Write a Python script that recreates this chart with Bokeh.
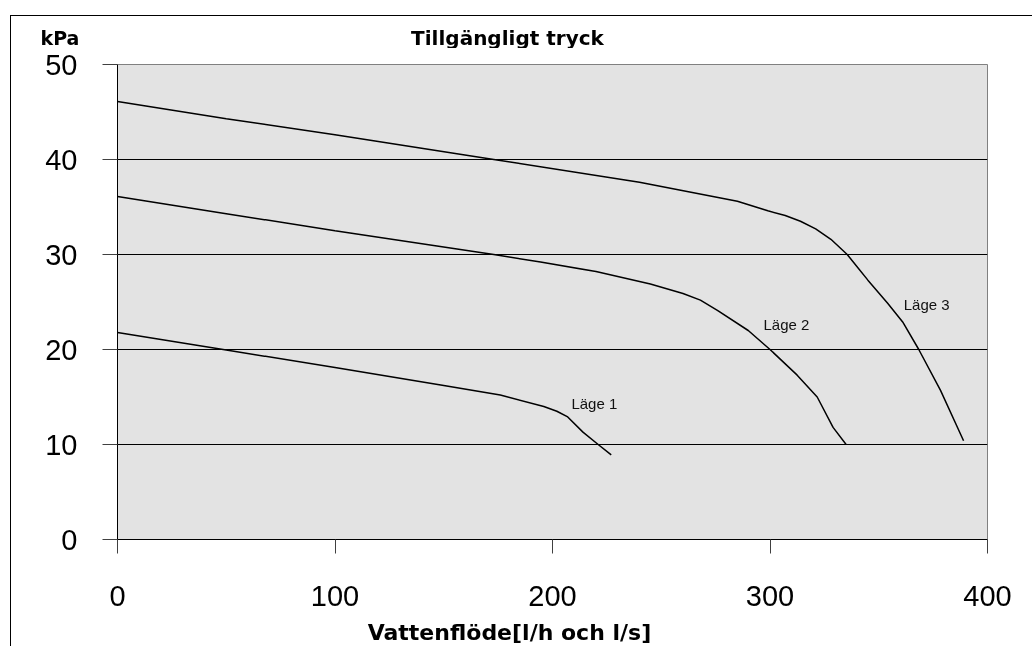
from bokeh.plotting import figure
from bokeh.layouts import column
from bokeh.models import Range1d, FixedTicker
from bokeh.core.properties import value
from bokeh.embed import file_html
from bokeh.resources import INLINE

# ---- data ----
flow_lage1 = [0, 50, 100, 150, 176, 196, 202, 207, 214, 221, 227]
press_lage1 = [21.8, 19.95, 18.1, 16.2, 15.2, 14.0, 13.5, 12.9, 11.3, 10.0, 8.9]

flow_lage2 = [0, 50, 100, 173, 194.5, 220, 245, 260, 268, 276, 290, 300, 312.5, 321.7, 329, 335]
press_lage2 = [36.1, 34.3, 32.5, 30.0, 29.2, 28.2, 26.9, 25.9, 25.2, 24.1, 22.0, 20.0, 17.3, 15.0, 11.8, 10.0]

flow_lage3 = [0, 50, 100, 173, 240, 285, 299, 307, 314, 321, 328, 335.5, 345, 354, 361, 368.4, 378.4, 389]
press_lage3 = [46.1, 44.3, 42.6, 40.0, 37.6, 35.6, 34.6, 34.1, 33.5, 32.7, 31.6, 30.0, 27.3, 24.9, 22.9, 20.0, 15.7, 10.4]

curve_names = ["Läge 1", "Läge 2", "Läge 3"]
curve_label_x = [208.7, 297, 361.5]
curve_label_y = [14.3, 22.6, 24.7]

x_ticks = [0, 100, 200, 300, 400]
y_ticks = [0, 10, 20, 30, 40, 50]

title_text = "Tillgängligt tryck"
y_title = "kPa"
x_title = "Vattenflöde[l/h och l/s]"

HEAVY = "'DejaVu Sans', sans-serif"
SANS = "'Liberation Sans', Arial, sans-serif"

# ---- layout constants (pixels) ----
W = 1021
LEFT, RIGHT = 106, 45
TOP_H, BOT_H = 32, 27
M_TOP, M_BOT = 16, 80
FRAME_H = 475
X0, X1, Y0, Y1 = 0, 400, 0, 50
ppu = (W - LEFT - RIGHT) / (X1 - X0)
full_x = (X0 - LEFT / ppu, X1 + RIGHT / ppu)

def strip(h):
    f = figure(width=W, height=h, x_range=Range1d(*full_x),
               y_range=Range1d(0, h), output_backend="svg", toolbar_location=None,
               min_border=0, x_axis_type=None, y_axis_type=None)
    f.frame_align = False
    f.grid.visible = False
    f.outline_line_color = None
    f.background_fill_color = "white"
    f.border_fill_color = "white"
    return f

# header strip: "kPa" and title
top = strip(TOP_H)
top.text(x=[X0 - 77 / ppu], y=[11], text=[y_title], text_font=value(HEAVY),
         text_font_style="bold", text_font_size="19px",
         text_align="left", text_baseline="middle", text_color="black")
top.text(x=[179.3], y=[11], text=[title_text], text_font=value(HEAVY),
         text_font_style="bold", text_font_size="20px",
         text_align="center", text_baseline="middle", text_color="black")

# main chart
p = figure(width=W, height=M_TOP + FRAME_H + M_BOT,
           x_range=Range1d(X0, X1), y_range=Range1d(Y0, Y1),
           output_backend="svg", toolbar_location=None,
           min_border_left=LEFT, min_border_right=RIGHT,
           min_border_top=M_TOP, min_border_bottom=M_BOT)
p.frame_align = False
p.background_fill_color = "#e3e3e3"
p.border_fill_color = "white"
p.outline_line_color = "#808080"
p.outline_line_width = 1

p.xgrid.visible = False
p.ygrid.ticker = FixedTicker(ticks=y_ticks)
p.ygrid.grid_line_color = "black"
p.ygrid.grid_line_width = 1

xa = p.xaxis[0]
xa.ticker = FixedTicker(ticks=x_ticks)
xa.axis_line_color = "black"
xa.axis_line_width = 1
xa.major_tick_out = 14
xa.major_tick_in = 0
xa.minor_tick_out = 0
xa.minor_tick_in = 0
xa.major_tick_line_color = "#404040"
xa.major_label_standoff = 32
xa.major_label_text_font = SANS
xa.major_label_text_font_size = "29px"
xa.major_label_text_color = "black"

ya = p.yaxis[0]
ya.ticker = FixedTicker(ticks=y_ticks)
ya.axis_line_color = "black"
ya.axis_line_width = 1
ya.major_tick_out = 15
ya.major_tick_in = 0
ya.minor_tick_out = 0
ya.minor_tick_in = 0
ya.major_tick_line_color = "#404040"
ya.major_label_standoff = 25
ya.major_label_text_font = SANS
ya.major_label_text_font_size = "29px"
ya.major_label_text_color = "black"

for fx, py in [(flow_lage1, press_lage1), (flow_lage2, press_lage2), (flow_lage3, press_lage3)]:
    p.line(fx, py, line_color="black", line_width=1.5)

p.text(x=curve_label_x, y=curve_label_y, text=curve_names,
       text_font=value(SANS), text_font_size="15px",
       text_baseline="middle", text_align="left", text_color="#111111")

# footer strip: x-axis title
bot = strip(BOT_H)
bot.text(x=[180.2], y=[14], text=[x_title], text_font=value(HEAVY),
         text_font_style="bold", text_font_size="22px",
         text_align="center", text_baseline="middle", text_color="black")

layout = column(top, p, bot, spacing=0)
layout.styles = {"position": "fixed", "left": "10px", "top": "15px",
                 "border-left": "1px solid black", "border-top": "1px solid black"}

open("out.html", "w").write(file_html(layout, INLINE))
